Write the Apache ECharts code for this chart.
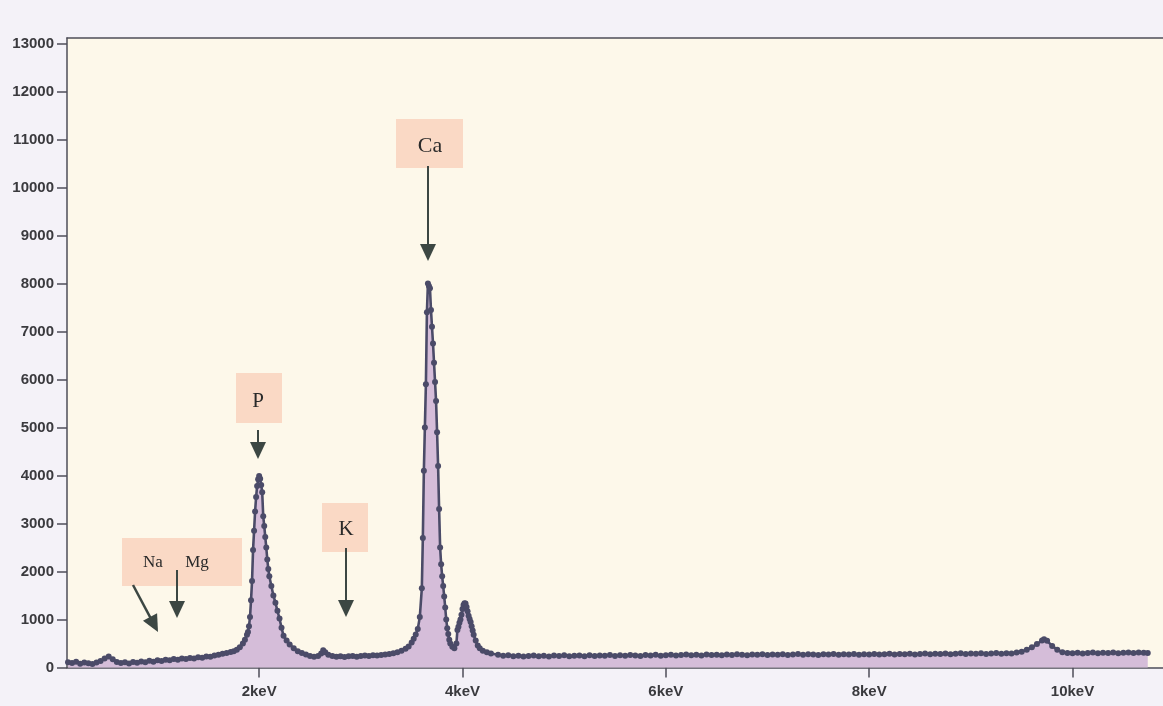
<!DOCTYPE html>
<html>
<head>
<meta charset="utf-8">
<script src="https://cdn.jsdelivr.net/npm/echarts/dist/echarts.min.js"></script>
<style>
html,body{margin:0;padding:0;background:#f4f2f8;}
#chart{width:1163px;height:706px;}
</style>
</head>
<body>
<div id="chart"></div>
<script>
// Energy (keV) of each spectrum point
const energies = [
0.12,0.16,0.20,0.24,0.28,0.32,0.36,0.40,0.44,0.48,0.52,0.56,0.60,0.64,0.68,0.72,0.76,0.80,0.84,0.88,
0.92,0.96,1.00,1.04,1.08,1.12,1.16,1.20,1.24,1.28,1.32,1.36,1.40,1.44,1.48,1.52,1.56,1.60,1.64,1.68,1.72,
1.75,1.78,1.81,1.84,1.86,1.88,1.89,1.90,1.91,1.92,1.93,1.94,1.95,1.96,1.97,1.98,1.99,2.00,2.01,2.02,2.03,
2.04,2.05,2.06,2.07,2.08,2.09,2.10,2.12,2.14,2.16,2.18,2.20,2.22,2.24,2.27,2.30,2.34,2.38,2.42,2.46,2.50,
2.54,2.58,2.61,2.63,2.65,2.68,2.72,2.76,2.80,2.84,2.88,2.92,2.96,3.00,3.04,3.08,3.12,3.16,3.20,3.24,3.28,
3.32,3.36,3.40,3.44,3.47,3.50,3.52,3.54,3.56,3.58,3.60,3.61,3.62,3.63,3.64,3.65,3.66,3.67,3.68,3.69,3.70,
3.71,3.72,3.73,3.74,3.75,3.76,3.77,3.78,3.79,3.80,3.81,3.82,3.83,3.84,3.85,3.86,3.87,3.88,3.90,3.92,3.94,
3.95,3.96,3.97,3.98,3.99,4.00,4.01,4.02,4.03,4.04,4.05,4.06,4.07,4.08,4.09,4.10,4.11,4.13,4.15,4.17,4.20,
4.24,4.28,
4.35,4.40,4.45,4.50,4.55,4.60,4.65,4.70,4.75,4.80,4.85,4.90,4.95,5.00,5.05,5.10,5.15,5.20,5.25,5.30,5.35,
5.40,5.45,5.50,5.55,5.60,5.65,5.70,5.75,5.80,5.85,5.90,5.95,6.00,6.05,6.10,6.15,6.20,6.25,6.30,6.35,6.40,
6.45,6.50,6.55,6.60,6.65,6.70,6.75,6.80,6.85,6.90,6.95,7.00,7.05,7.10,7.15,7.20,7.25,7.30,7.35,7.40,7.45,
7.50,7.55,7.60,7.65,7.70,7.75,7.80,7.85,7.90,7.95,8.00,8.05,8.10,8.15,8.20,8.25,8.30,8.35,8.40,8.45,8.50,
8.55,8.60,8.65,8.70,8.75,8.80,8.85,8.90,8.95,9.00,9.05,9.10,9.15,9.20,9.25,9.30,9.35,9.40,9.45,9.50,9.55,
9.60,9.65,9.70,9.72,9.75,9.80,9.85,9.90,9.95,10.00,10.05,10.10,10.15,10.20,10.25,10.30,10.35,10.40,10.45,
10.50,10.55,10.60,10.65,10.70,10.74
];
// Counts
const counts = [
110,95,120,80,105,90,75,105,135,190,230,170,115,95,110,85,115,100,125,110,
140,120,150,135,160,150,175,160,185,175,200,190,215,205,230,225,250,265,285,300,325,
340,370,420,500,580,680,740,860,1050,1400,1800,2450,2850,3250,3550,3780,3920,3990,3930,3800,3650,
3150,2950,2720,2500,2250,2050,1900,1700,1500,1350,1180,1020,830,660,560,480,400,340,300,270,240,
225,240,290,360,320,265,240,225,235,220,235,240,225,240,250,240,255,250,260,270,280,
295,320,350,390,440,520,600,690,800,1050,1650,2700,4100,5000,5900,7400,8000,7950,7900,7450,7100,
6750,6350,5950,5550,4900,4200,3300,2500,2150,1900,1700,1480,1250,1000,820,700,580,500,430,400,500,
780,850,930,1000,1100,1220,1300,1340,1335,1260,1170,1080,1010,950,860,770,680,560,460,400,350,
320,290,
265,245,255,235,245,230,240,250,235,245,230,250,240,255,235,245,250,235,255,240,250,
245,260,240,255,245,260,250,240,260,250,265,245,255,265,250,260,270,255,265,250,270,
260,265,255,270,260,275,265,255,270,265,275,260,270,265,275,260,270,280,265,275,270,
260,275,270,280,265,275,270,280,265,275,270,280,270,275,285,270,280,275,285,270,280,
290,275,285,280,290,275,285,295,280,290,285,295,280,290,300,285,295,290,310,330,370,
420,490,560,590,555,450,370,320,300,295,305,290,300,310,295,305,300,310,295,
305,315,300,310,305,300
];
const yTicks = [0,1000,2000,3000,4000,5000,6000,7000,8000,9000,10000,11000,12000,13000];
const xTicks = [2,4,6,8,10];
const xUnit = 'keV';

const seriesData = energies.map((e, i) => [e, counts[i]]);

const chart = echarts.init(document.getElementById('chart'), null, {renderer: 'canvas'});
const axisColor = '#4e4e58';
const labelFont = {fontFamily: 'Liberation Sans, Arial, sans-serif', fontSize: 15, fontWeight: 'bold', color: '#3a3a3e'};
const arrowColor = '#3c4743';
const boxColor = '#f9d5c1';
const serif = 'Liberation Serif, Times New Roman, serif';

function arrowHead(tip, dx, dy, len, half) {
  const bx = tip[0] - dx * len, by = tip[1] - dy * len;
  const px = -dy * half, py = dx * half;
  return [[tip[0], tip[1]], [bx + px, by + py], [bx - px, by - py]];
}
function arrow(x1, y1, x2, y2, w) {
  const L = Math.hypot(x2 - x1, y2 - y1);
  const dx = (x2 - x1) / L, dy = (y2 - y1) / L;
  return [
    {type: 'line', z: 100, shape: {x1: x1, y1: y1, x2: x2 - dx * 12, y2: y2 - dy * 12}, style: {stroke: arrowColor, lineWidth: w}},
    {type: 'polygon', z: 100, shape: {points: arrowHead([x2, y2], dx, dy, 17, 8)}, style: {fill: arrowColor}}
  ];
}
function box(x, y, w, h) {
  return {type: 'rect', z: 99, shape: {x: x, y: y, width: w, height: h}, style: {fill: boxColor, opacity: 0.9}};
}
function label(t, x, y, size) {
  return {type: 'text', z: 101, x: x, y: y, style: {text: t, fill: '#2a2a2a', font: size + 'px ' + serif, textAlign: 'center', textVerticalAlign: 'middle'}};
}

const graphics = [
  box(396, 119, 67, 49), label('Ca', 430, 146, 22), ...arrow(428, 166, 428, 261, 2),
  box(236, 373, 46, 50), label('P', 258, 401, 21), ...arrow(258, 430, 258, 459, 2),
  box(322, 503, 46, 49), label('K', 346, 529, 21), ...arrow(346, 548, 346, 617, 2),
  box(122, 538, 120, 48), label('Na', 153, 563, 17), label('Mg', 197, 563, 17),
  ...arrow(177, 570, 177, 618, 2), ...arrow(133, 585, 158, 632, 2.5)
];

chart.setOption({
  animation: false,
  backgroundColor: '#f4f2f8',
  grid: {left: 67, right: 0, top: 38, bottom: 38.5, show: true, backgroundColor: '#fdf8ea', borderWidth: 0},
  xAxis: [{
    type: 'value', min: 0.11, max: 10.89,
    axisLine: {show: true, onZero: false, lineStyle: {color: axisColor, width: 1.5}},
    axisTick: {show: true, length: 10, customValues: xTicks, lineStyle: {color: axisColor, width: 1.5}},
    axisLabel: Object.assign({customValues: xTicks, margin: 17, formatter: v => v + xUnit}, labelFont),
    splitLine: {show: false}
  }, {
    type: 'value', position: 'top', min: 0.11, max: 10.89,
    axisLine: {show: true, onZero: false, lineStyle: {color: axisColor, width: 1.5}},
    axisTick: {show: false}, axisLabel: {show: false}, splitLine: {show: false}
  }],
  yAxis: {
    type: 'value', min: 0, max: 13115,
    axisLine: {show: true, onZero: false, lineStyle: {color: axisColor, width: 1.5}},
    axisTick: {show: true, length: 10, customValues: yTicks, lineStyle: {color: axisColor, width: 1.5}},
    axisLabel: Object.assign({customValues: yTicks, margin: 13, formatter: v => String(v)}, labelFont),
    splitLine: {show: false}
  },
  series: [{
    type: 'line',
    xAxisIndex: 0,
    data: seriesData,
    symbol: 'circle',
    symbolSize: 6,
    showSymbol: true,
    lineStyle: {color: '#4b4b68', width: 2.6},
    itemStyle: {color: '#4b4b68'},
    areaStyle: {color: '#d5bdd9', opacity: 1},
    z: 5
  }],
  graphic: graphics
});
</script>
</body>
</html>
